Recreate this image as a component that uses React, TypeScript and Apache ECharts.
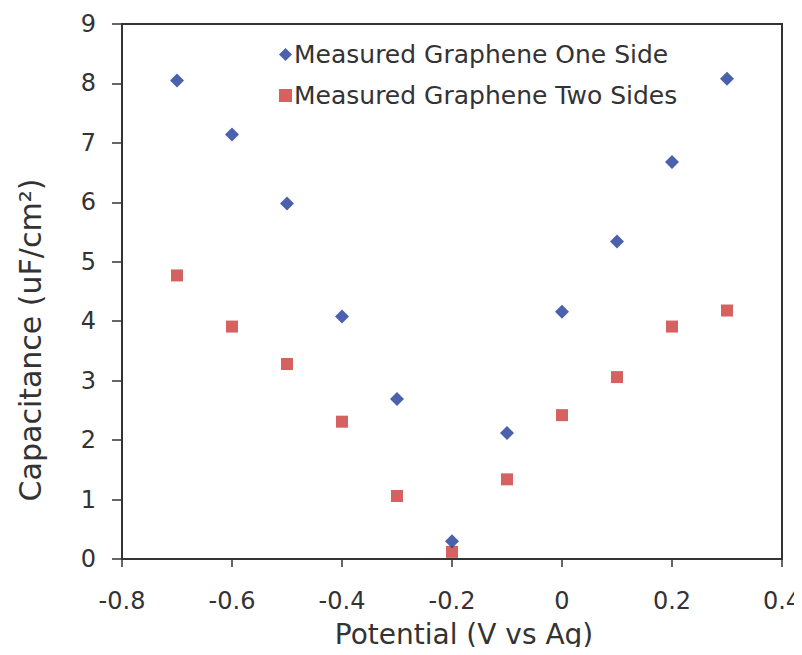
import React, { useEffect, useRef } from "react";
import * as echarts from "echarts";

const potentials = [-0.7, -0.6, -0.5, -0.4, -0.3, -0.2, -0.1, 0, 0.1, 0.2, 0.3];
const oneSide = [8.05, 7.14, 5.98, 4.08, 2.69, 0.3, 2.12, 4.16, 5.34, 6.68, 8.08];
const twoSides = [4.77, 3.91, 3.28, 2.31, 1.06, 0.12, 1.34, 2.42, 3.06, 3.91, 4.18];
const seriesNames = ["Measured Graphene One Side", "Measured Graphene Two Sides"];
const xTitle = "Potential (V vs Ag)";
const yTitle = "Capacitance (uF/cm²)";

const FONT = "DejaVu Sans";
const BLUE = "#1f3a98";
const RED = "#cc3a3a";

export default function App() {
  const ref = useRef<HTMLDivElement>(null);
  useEffect(() => {
    if (!ref.current) return;
    const chart = echarts.init(ref.current, null, { renderer: "svg" });
    const pairs = (ys: number[]) => potentials.map((x, i) => [x, ys[i]]);
    chart.setOption({
      animation: false,
      backgroundColor: "#ffffff",
      grid: {
        left: 122,
        right: 20,
        top: 24,
        bottom: 96,
        containLabel: false,
        outerBoundsMode: "none",
        show: true,
        borderColor: "#333",
        borderWidth: 2,
      },
      legend: {
        orient: "vertical",
        left: 274,
        top: 37,
        itemGap: 16,
        itemWidth: 13,
        itemHeight: 13,
        textStyle: { fontFamily: FONT, fontSize: 25, color: "#333", padding: [0, 0, 0, -3] },
        data: [
          { name: seriesNames[0], icon: "diamond" },
          { name: seriesNames[1], icon: "rect" },
        ],
      },
      xAxis: {
        type: "value",
        min: -0.8,
        max: 0.4,
        interval: 0.2,
        name: xTitle,
        nameLocation: "middle",
        nameGap: 61,
        nameTextStyle: { fontFamily: FONT, fontSize: 28, color: "#333", padding: [0, 0, 0, 24] },
        axisLine: { show: true, onZero: false, lineStyle: { color: "#333", width: 2 } },
        axisTick: { show: true, inside: false, length: 8, lineStyle: { color: "#333", width: 1.5 } },
        axisLabel: {
          fontFamily: FONT,
          fontSize: 24,
          color: "#333",
          margin: 30,
          formatter: (v: number) => {
            const r = Math.round(v * 10) / 10;
            return r === 0 ? "0" : String(r);
          },
        },
        splitLine: { show: false },
      },
      yAxis: {
        type: "value",
        min: 0,
        max: 9,
        interval: 1,
        axisLine: { show: true, onZero: false, lineStyle: { color: "#333", width: 2 } },
        axisTick: { show: true, inside: false, length: 10, lineStyle: { color: "#333", width: 1.5 } },
        axisLabel: { fontFamily: FONT, fontSize: 24, color: "#333", margin: 26 },
        splitLine: { show: false },
      },
      graphic: [
        {
          type: "text",
          x: 30,
          y: 340,
          rotation: Math.PI / 2,
          style: {
            text: yTitle,
            fontFamily: FONT,
            fontSize: 30,
            fill: "#333",
            align: "center",
            verticalAlign: "middle",
          },
        },
      ],
      series: [
        {
          name: seriesNames[0],
          type: "scatter",
          symbol: "diamond",
          symbolSize: 14,
          itemStyle: { color: BLUE },
          data: pairs(oneSide),
          z: 3,
        },
        {
          name: seriesNames[1],
          type: "scatter",
          symbol: "rect",
          symbolSize: 12,
          itemStyle: { color: RED },
          data: pairs(twoSides),
          z: 2,
        },
      ],
    });
    return () => chart.dispose();
  }, []);
  return <div ref={ref} style={{ width: 802, height: 655, margin: -8 }} />;
}
